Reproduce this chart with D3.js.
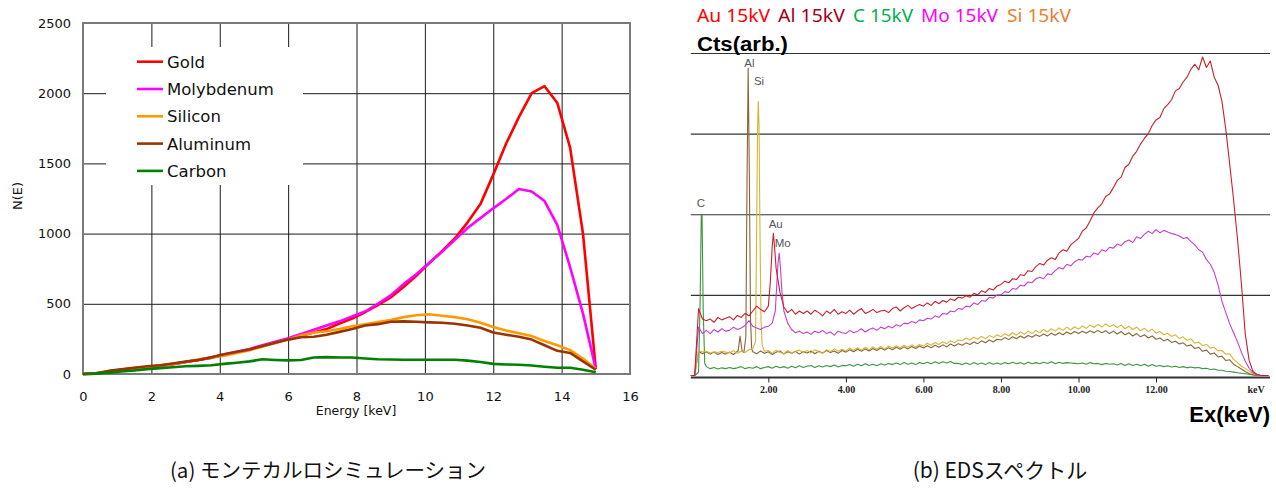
<!DOCTYPE html>
<html><head><meta charset="utf-8">
<script src="https://cdn.jsdelivr.net/npm/d3@7"></script>
<style>body{margin:0;background:#fff;} svg{display:block;}</style>
</head><body>
<svg id="c" width="1276" height="491"></svg>
<script>
// ================= (a) Monte Carlo simulation =================
const mcEnergy = [0,0.375,0.75,1.125,1.5,1.875,2.25,2.625,3,3.375,3.75,4.125,4.5,4.875,5.25,5.625,6,6.375,6.75,7.125,7.5,7.875,8.25,8.625,9,9.375,9.75,10.125,10.5,10.875,11.25,11.625,12,12.375,12.75,13.125,13.5,13.875,14.25,14.625,15];
const mcGold     = [0,3,18,30,40,50,58,70,85,100,115,135,155,175,200,225,250,275,295,320,360,395,440,490,545,620,700,790,875,965,1080,1210,1420,1640,1830,2000,2050,1930,1610,1000,35];
const mcMoly     = [0,3,18,30,40,50,58,70,85,100,118,138,158,178,205,230,255,285,315,345,375,410,445,500,560,640,710,790,870,955,1040,1110,1180,1246,1318,1300,1232,1060,760,430,35];
const mcSilicon  = [0,5,20,32,42,52,60,72,85,105,118,130,150,170,195,220,245,275,295,305,320,340,355,370,385,405,418,425,415,405,390,365,335,310,290,270,235,205,170,110,35];
const mcAluminum = [0,5,22,33,45,55,62,75,88,100,120,140,158,175,200,222,245,262,265,280,300,320,345,355,372,375,372,368,365,358,345,330,295,280,265,245,205,165,150,90,30];
const mcCarbon   = [0,3,10,18,25,35,42,48,55,58,62,72,80,90,105,100,97,100,118,120,118,117,110,105,103,102,102,102,102,101,95,85,72,68,66,60,52,45,45,30,12];
const mcXTicks = [0,2,4,6,8,10,12,14,16];
const mcYTicks = [0,500,1000,1500,2000,2500];
const mcNames  = ["Gold","Molybdenum","Silicon","Aluminum","Carbon"];
const mcColors = ["#ff0000","#ff00ff","#ff9900","#993300","#008000"];

// ================= (b) EDS spectrum =================
const edsStep = 0.1; // keV per channel
const edsAu = [
 0,0,830,700,680,700,660,720,690,710,
 730,690,745,720,770,740,800,860,820,790,
 860,1600,1330,1030,850,780,820,760,800,770,
 800,760,810,780,740,800,770,820,760,790,
 770,810,760,800,830,770,790,820,780,800,
 810,780,830,850,800,840,870,830,860,880,
 860,900,870,920,890,930,910,950,930,970,
 960,990,970,1020,1000,1050,1030,1080,1060,1110,
 1130,1170,1150,1200,1190,1250,1240,1300,1290,1350,
 1390,1370,1430,1460,1440,1520,1560,1540,1620,1660,
 1700,1790,1830,1920,2020,2080,2130,2220,2250,2330,
 2420,2460,2580,2620,2720,2780,2870,2940,3000,3100,
 3170,3200,3310,3360,3420,3530,3560,3640,3700,3800,
 3860,3790,3950,3820,3900,3700,3600,3400,3050,2620,
 2180,1700,1150,520,190,50,15,0,0,0];
const edsAuPeak = [[2.05,1150],[2.1,1600],[2.13,1765],[2.16,1600],[2.19,1400]];
const edsMo = [
 0,0,600,520,560,520,570,540,580,550,
 560,600,570,590,620,680,610,590,570,600,
 610,650,1150,1300,800,650,570,530,550,520,
 540,510,550,530,560,520,540,500,550,530,
 520,560,530,550,580,540,570,590,560,600,
 580,610,590,630,610,650,640,670,650,690,
 680,710,700,740,720,770,760,800,790,830,
 820,860,850,900,880,930,920,970,960,1000,
 1000,1040,1030,1080,1070,1120,1110,1160,1150,1200,
 1220,1200,1260,1250,1300,1340,1320,1380,1360,1410,
 1440,1430,1480,1470,1520,1500,1560,1540,1590,1580,
 1630,1610,1660,1680,1650,1720,1700,1750,1790,1760,
 1810,1770,1800,1780,1760,1750,1730,1700,1710,1660,
 1620,1560,1530,1440,1380,1280,1120,920,780,640,
 530,420,290,180,90,35,10,0,0,0];
const edsMoPeak = [[2.18,800],[2.22,1150],[2.25,1400],[2.28,1520],[2.31,1350],[2.35,1050],[2.39,860]];
const edsSi = [
 0,0,310,290,300,280,295,285,300,290,
 280,310,275,300,285,320,335,360,340,300,
 310,275,315,285,270,310,280,300,315,285,
 310,280,320,295,275,320,295,330,300,325,
 305,340,310,345,315,350,320,355,325,360,
 330,365,340,370,345,375,350,380,355,385,
 365,400,375,410,385,420,395,430,405,440,
 430,465,440,475,450,485,460,495,470,505,
 480,520,490,530,500,540,510,550,520,560,
 530,570,540,580,550,590,560,600,565,605,
 575,615,585,625,595,635,600,640,605,630,
 595,625,580,610,570,600,555,585,545,575,
 525,545,505,525,485,505,460,480,435,455,
 400,415,370,385,340,350,305,310,265,270,
 200,160,115,85,55,25,10,0,0,0];
const edsSiPeak = [[1.67,420],[1.7,1900],[1.72,3000],[1.74,3400],[1.76,3100],[1.78,2000],[1.81,700],[1.84,380]];
const edsAl = [
 0,0,300,270,295,265,290,260,285,265,
 290,260,300,480,320,320,295,270,305,275,
 295,260,290,305,265,295,275,300,265,295,
 280,305,270,300,280,310,285,305,275,310,
 290,320,295,325,300,330,305,335,310,340,
 315,345,320,350,325,355,330,360,335,365,
 340,370,345,375,350,380,355,390,365,395,
 375,405,385,415,395,430,405,440,415,450,
 440,470,445,480,455,490,465,495,475,505,
 485,515,490,525,500,530,505,540,515,545,
 520,550,525,555,530,560,530,555,520,550,
 515,545,505,530,490,520,480,505,465,490,
 450,465,430,450,410,425,390,405,365,380,
 335,350,300,315,265,280,230,240,185,195,
 140,110,80,50,25,10,0,0,0,0];
const edsAlPeak = [[1.22,300],[1.27,490],[1.32,310],[1.37,285],[1.42,480],[1.45,2400],[1.48,3810],[1.51,2500],[1.54,700],[1.57,330]];
const edsC = [
 0,0,40,1400,110,85,100,80,95,85,
 100,85,95,110,85,100,90,110,85,100,
 110,90,115,95,110,90,115,95,120,100,
 115,125,100,120,105,125,110,130,105,125,
 120,135,115,140,120,145,125,140,120,145,
 130,150,135,155,135,160,140,155,135,160,
 145,165,145,170,150,170,155,175,150,150,
 135,155,135,160,140,155,135,160,140,155,
 140,160,145,165,145,160,140,165,145,160,
 145,165,150,170,145,165,150,160,155,150,
 145,155,140,160,145,150,135,150,140,145,
 130,150,125,145,125,140,120,140,115,135,
 115,125,110,120,105,115,100,110,95,105,
 95,100,85,90,75,80,65,65,52,50,
 42,35,28,22,15,8,3,0,0,0];
const edsCPeak = [[0.2,40],[0.24,900],[0.27,1990],[0.29,1990],[0.32,800],[0.36,150]];
const edsXTicks = [2,4,6,8,10,12];
const edsTickLabels = ["2.00","4.00","6.00","8.00","10.00","12.00"];
const edsGrid = [1000,2000,3000,4000];
const edsLegend = ["Au 15kV","Al 15kV","C 15kV","Mo 15kV","Si 15kV"];
const edsLegendColors = ["#ff0000","#a50021","#00b050","#ff00ff","#ed7d31"];
const edsPeakLabels = [
 {t:"C",  e:0.26, c:1990, dy:-8},
 {t:"Al", e:1.51, c:3810, dy:-1},
 {t:"Si", e:1.76, c:3400, dy:-16},
 {t:"Au", e:2.19, c:1765, dy:-5},
 {t:"Mo", e:2.37, c:1520, dy:-6}];

// ======================= drawing =======================
const svg = d3.select("#c");
const FONT_A = "'DejaVu Sans', Verdana, sans-serif";

// ---------- panel (a) ----------
const A = {x0:83, x1:630, y0:374, y1:23};
const xa = d3.scaleLinear().domain([0,16]).range([A.x0, A.x1]);
const ya = d3.scaleLinear().domain([0,2500]).range([A.y0, A.y1]);
const gA = svg.append("g");

gA.append("g").attr("transform",`translate(0,${A.y0})`)
  .call(d3.axisBottom(xa).tickValues(mcXTicks.slice(1,-1)).tickSize(-(A.y0-A.y1)).tickFormat(""))
  .call(g=>g.select(".domain").remove())
  .call(g=>g.selectAll("line").attr("stroke","#1a1a1a").attr("stroke-width",1));
gA.append("g").attr("transform",`translate(${A.x0},0)`)
  .call(d3.axisLeft(ya).tickValues(mcYTicks.slice(1,-1)).tickSize(-(A.x1-A.x0)).tickFormat(""))
  .call(g=>g.select(".domain").remove())
  .call(g=>g.selectAll("line").attr("stroke","#1a1a1a").attr("stroke-width",1));
gA.append("rect").attr("x",A.x0).attr("y",A.y1).attr("width",A.x1-A.x0).attr("height",A.y0-A.y1)
  .attr("fill","none").attr("stroke","#7a7a7a").attr("stroke-width",2);

// tick labels
gA.append("g").attr("transform",`translate(0,${A.y0})`)
  .call(d3.axisBottom(xa).tickValues(mcXTicks).tickSize(0).tickPadding(18).tickFormat(d3.format("d")))
  .call(g=>g.select(".domain").remove())
  .call(g=>g.selectAll("text").attr("font-family",FONT_A).attr("font-size",13).attr("fill","#111"));
gA.append("g").attr("transform",`translate(${A.x0},0)`)
  .call(d3.axisLeft(ya).tickValues(mcYTicks).tickSize(0).tickPadding(12).tickFormat(d3.format("d")))
  .call(g=>g.select(".domain").remove())
  .call(g=>g.selectAll("text").attr("font-family",FONT_A).attr("font-size",13).attr("fill","#111"));

gA.append("text").attr("x",(A.x0+A.x1)/2-0.5).attr("y",415).attr("text-anchor","middle")
  .attr("font-family",FONT_A).attr("font-size",12.5).attr("fill","#111").text("Energy [keV]");
gA.append("text").attr("transform","translate(22,196) rotate(-90)").attr("text-anchor","middle")
  .attr("font-family",FONT_A).attr("font-size",13).attr("fill","#111").text("N(E)");

// legend box
gA.append("rect").attr("x",106).attr("y",47).attr("width",197).attr("height",138).attr("fill","#fff");

const mcSeries = [mcGold, mcMoly, mcSilicon, mcAluminum, mcCarbon];
const lineA = d3.line().x(d=>xa(d[0])).y(d=>ya(d[1]));
mcSeries.forEach((s,i)=>{
  gA.append("path").datum(mcEnergy.map((e,j)=>[e,s[j]]))
    .attr("d",lineA).attr("fill","none").attr("stroke",mcColors[i])
    .attr("stroke-width",2.6).attr("stroke-linejoin","round");
});
const leg = gA.append("g");
mcNames.forEach((n,i)=>{
  const yy = 61.7 + i*27.3;
  leg.append("line").attr("x1",137).attr("x2",163).attr("y1",yy).attr("y2",yy)
    .attr("stroke",mcColors[i]).attr("stroke-width",2.6);
  leg.append("text").attr("x",167).attr("y",yy).attr("dy","0.36em")
    .attr("font-family",FONT_A).attr("font-size",16.5).attr("fill","#111").text(n);
});

// ---------- panel (b) ----------
const B = {x0:690.8, x1:1270, y0:375.5, yTop:53};
const xb = d3.scaleLinear().domain([0,(B.x1-B.x0)/38.77]).range([B.x0,B.x1]);
const yb = d3.scaleLinear().domain([0,4000]).range([B.y0,B.yTop]);
const gB = svg.append("g");

gB.append("g").attr("transform",`translate(${B.x0},0)`)
  .call(d3.axisLeft(yb).tickValues(edsGrid).tickSize(-(B.x1-B.x0)).tickFormat(""))
  .call(g=>g.select(".domain").remove())
  .call(g=>g.selectAll("line").attr("stroke","#333").attr("stroke-width",1.2));

// x axis
gB.append("line").attr("x1",B.x0).attr("x2",B.x1).attr("y1",377.5).attr("y2",377.5)
  .attr("stroke","#333").attr("stroke-width",2);
gB.append("g").attr("transform","translate(0,377.5)")
  .call(d3.axisBottom(xb).tickValues(edsXTicks).tickSize(5).tickPadding(3.5).tickFormat((d,i)=>edsTickLabels[i]))
  .call(g=>g.select(".domain").remove())
  .call(g=>g.selectAll("line").attr("stroke","#222"))
  .call(g=>g.selectAll("text").attr("font-family","'Liberation Serif', 'Times New Roman', serif")
     .attr("font-weight","bold").attr("font-size",10).attr("fill","#222"));
gB.append("text").attr("x",1256).attr("y",393).attr("text-anchor","middle")
  .attr("font-family","'Liberation Serif', serif").attr("font-weight","bold").attr("font-size",10)
  .attr("fill","#222").text("keV");

function mergePeak(base, peak){
  const lo = peak[0][0], hi = peak[peak.length-1][0];
  const pts = base.map((v,i)=>[i*edsStep, v]).filter(p=>p[0] < lo-1e-9 || p[0] > hi+1e-9);
  return pts.concat(peak).sort((a,b)=>a[0]-b[0]);
}
const lineB = d3.line().x(d=>xb(d[0])).y(d=>yb(d[1]));
const edsSeries = [
  {d:mergePeak(edsC, edsCPeak),  c:"#3c963c"},
  {d:mergePeak(edsAl, edsAlPeak),c:"#86653a"},
  {d:mergePeak(edsSi, edsSiPeak),c:"#d8b436"},
  {d:mergePeak(edsMo, edsMoPeak),c:"#c53fcf"},
  {d:mergePeak(edsAu, edsAuPeak),c:"#c8202a"}];
edsSeries.forEach(s=>{
  gB.append("path").datum(s.d).attr("d",lineB).attr("fill","none")
    .attr("stroke",s.c).attr("stroke-width",1.1).attr("stroke-linejoin","round");
});
edsPeakLabels.forEach(p=>{
  gB.append("text").attr("x",xb(p.e)).attr("y",yb(p.c)+p.dy).attr("text-anchor","middle")
    .attr("font-family","'Liberation Sans', Arial, sans-serif").attr("font-size",11.5)
    .attr("fill","#555").text(p.t);
});

// legend + titles
const legX = [697,778,853,921,1007];
const legW = [73,67,60,77,64];
edsLegend.forEach((t,i)=>{
  gB.append("text").attr("x",legX[i]).attr("y",22).attr("font-family","'Noto Sans', 'Open Sans', sans-serif")
    .attr("font-size",18).attr("textLength",legW[i]).attr("lengthAdjust","spacingAndGlyphs")
    .attr("fill",edsLegendColors[i]).text(t);
});
gB.append("text").attr("x",697).attr("y",50.5).attr("font-family","'Liberation Sans', Arial, sans-serif")
  .attr("font-weight","bold").attr("font-size",20).attr("textLength",91).attr("lengthAdjust","spacingAndGlyphs")
  .attr("fill","#000").text("Cts(arb.)");
gB.append("text").attr("x",1270).attr("y",422).attr("text-anchor","end")
  .attr("font-family","'Liberation Sans', Arial, sans-serif").attr("font-weight","bold").attr("font-size",22)
  .attr("fill","#000").text("Ex(keV)");

// captions
const FONT_J = "'Noto Sans CJK JP', 'Noto Sans', sans-serif";
svg.append("text").attr("x",328).attr("y",471).attr("dy","0.35em").attr("text-anchor","middle")
  .attr("font-family",FONT_J).attr("font-size",20.5).attr("fill","#111").text("(a) モンテカルロシミュレーション");
svg.append("text").attr("x",1000).attr("y",471).attr("dy","0.35em").attr("text-anchor","middle")
  .attr("font-family",FONT_J).attr("font-size",21).attr("fill","#111").text("(b) EDSスペクトル");
</script>
</body></html>
